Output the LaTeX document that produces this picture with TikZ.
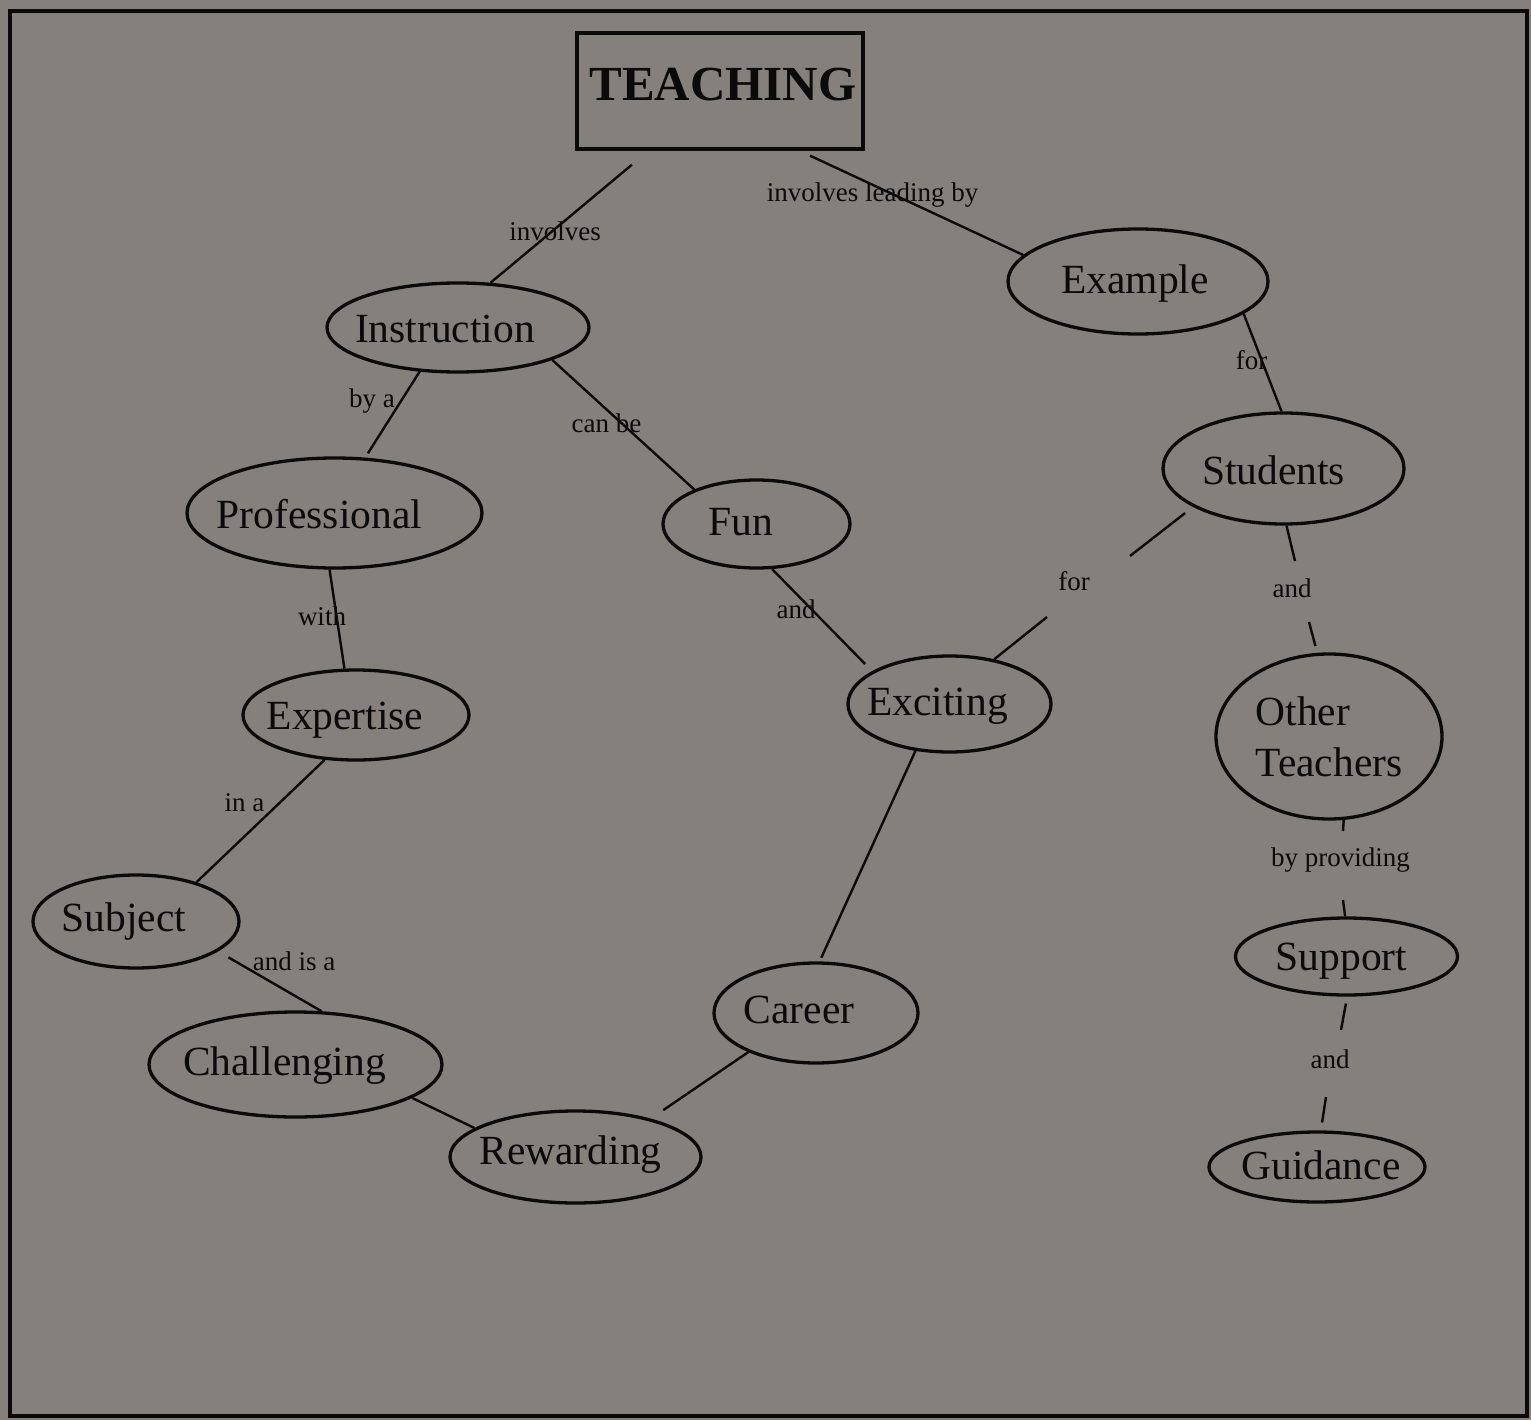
\documentclass[tikz,border=0pt]{standalone}
\usepackage{fontspec}
\setmainfont{Liberation Serif}
\usetikzlibrary{shapes.geometric,calc}
\definecolor{paper}{RGB}{132,128,123}
\definecolor{ink}{RGB}{10,10,10}
% centred word, moved right by #1 pt and down by #2 pt
\newcommand\ctext[3]{\makebox[0pt]{\hspace*{#1pt}\raisebox{-#2pt}{#3}\hspace*{-#1pt}}}
\begin{document}
\begin{tikzpicture}[x=1pt,y=-1pt,
  concept/.style={ellipse, draw=ink, line width=3.3pt, inner sep=0pt, text=ink,
    font=\fontsize{41.5}{51}\selectfont},
  word/.style={text height=21.5pt, text depth=0pt},
  lbl/.style={text=ink, font=\fontsize{27}{30}\selectfont, inner sep=0pt, anchor=base},
  link/.style={draw=ink, line width=2.4pt}]
\fill[paper] (0,0) rectangle (1531,1420);
\useasboundingbox (0,0) rectangle (1531,1420);
\draw[ink, line width=4.5pt] (10,11) rectangle (1527,1416);

% title box
\node[draw=ink, line width=3.3pt, minimum width=286pt, minimum height=116pt, inner sep=0pt,
  text=ink, text height=20pt, text depth=0pt,
  font=\fontsize{49}{55}\selectfont\bfseries] (teach) at (720,91) {\ctext{3}{0}{TEACHING}};

% concepts
\node[concept, word, minimum width=262pt, minimum height=89pt] (ins) at (458,327.5) {\ctext{-13}{4}{Instruction}};
\node[concept, word, minimum width=295pt, minimum height=110pt] (prof) at (334.5,513) {\ctext{-15}{5}{Professional}};
\node[concept, word, minimum width=226pt, minimum height=90pt] (exp) at (356,715) {\ctext{-11}{4}{Expertise}};
\node[concept, word, minimum width=206pt, minimum height=93pt] (sub) at (136,921.5) {\ctext{-12}{-1}{Subject}};
\node[concept, word, minimum width=293pt, minimum height=105pt] (cha) at (295.5,1064.5) {\ctext{-11}{0}{Challenging}};
\node[concept, word, minimum width=251pt, minimum height=92pt] (rew) at (575.5,1157) {\ctext{-5}{-3}{Rewarding}};
\node[concept, word, minimum width=204pt, minimum height=100pt] (car) at (816,1013) {\ctext{-17}{0}{Career}};
\node[concept, word, minimum width=187pt, minimum height=88pt] (fun) at (756.5,524) {\ctext{-16}{1}{Fun}};
\node[concept, word, minimum width=203pt, minimum height=96pt] (exc) at (949.5,704) {\ctext{-12}{1}{Exciting}};
\node[concept, word, minimum width=260pt, minimum height=105pt] (exa) at (1138,281.5) {\ctext{-3}{1}{Example}};
\node[concept, word, minimum width=241pt, minimum height=111pt] (stu) at (1283.5,468.5) {\ctext{-10}{5}{Students}};
\node[concept, align=left, minimum width=226pt, minimum height=165pt] (oth) at (1329,736.5) {Other\\Teachers};
\node[concept, word, minimum width=222pt, minimum height=77pt] (sup) at (1346.5,956.5) {\ctext{-5}{3}{Support}};
\node[concept, word, minimum width=216pt, minimum height=70pt] (gui) at (1317,1167) {\ctext{4}{2}{Guidance}};

% connectors
\draw[link, shorten <=22pt] (teach) -- (ins.54);
\draw[link] ($(teach.south)+(90,5)$) -- (exa.167);
\draw[link, shorten >=5pt] (ins.229) -- (prof.61);
\draw[link] (ins.341) -- (fun.151);
\draw[link] (prof.265) -- (exp.104);
\draw[link] (exp.235) -- (sub.33);
\draw[link, shorten <=12pt] (sub.340) -- (cha.64);
\draw[link] (cha.344) -- (rew.164);
\draw[link, shorten <=15pt] (rew.27) -- (car.210);
\draw[link, shorten <=4pt] (car.86) -- (exc.234);
\draw[link, shorten >=10pt] (fun.289) -- (exc.157);
\draw[link] (exa.343) -- (stu.92);

% connectors broken around their words
\coordinate (se1) at (1130,556);
\coordinate (se2) at (1047,617);
\draw[link, shorten <=10pt] (stu.203) -- (se1);
\draw[link] (se2) -- (exc.45);
\coordinate (so1) at (1295,561);
\coordinate (so2) at (1309,622);
\draw[link] (stu.273) -- (so1);
\draw[link, shorten >=7pt] (so2) -- (oth.98);
\coordinate (os1) at (1343,831);
\coordinate (os2) at (1343,900);
\draw[link] (oth.280) -- (os1);
\draw[link] (os2) -- (sup.92);
\coordinate (sg1) at (1341,1030);
\coordinate (sg2) at (1326,1097);
\draw[link, shorten <=7pt] (sup.271) -- (sg1);
\draw[link, shorten >=8pt] (sg2) -- (gui.84);

% link words
\node[lbl] (t-inv) at (555,241) {involves};
\node[lbl] (t-lead) at (872.5,202) {involves leading by};
\node[lbl] (t-bya) at (372,407) {by a};
\node[lbl] (t-canbe) at (606.5,432) {can be};
\node[lbl] (t-with) at (322,625) {with};
\node[lbl] (t-ina) at (244.5,811) {in a};
\node[lbl] (t-andis) at (294,970) {and is a};
\node[lbl] (t-and1) at (796,618) {and};
\node[lbl] (t-for1) at (1251.5,370) {for};
\node[lbl] (t-for2) at (1074,590) {for};
\node[lbl] (t-and2) at (1292,597) {and};
\node[lbl] (t-prov) at (1340.5,866) {by providing};
\node[lbl] (t-and3) at (1330,1068) {and};
\end{tikzpicture}
\end{document}
